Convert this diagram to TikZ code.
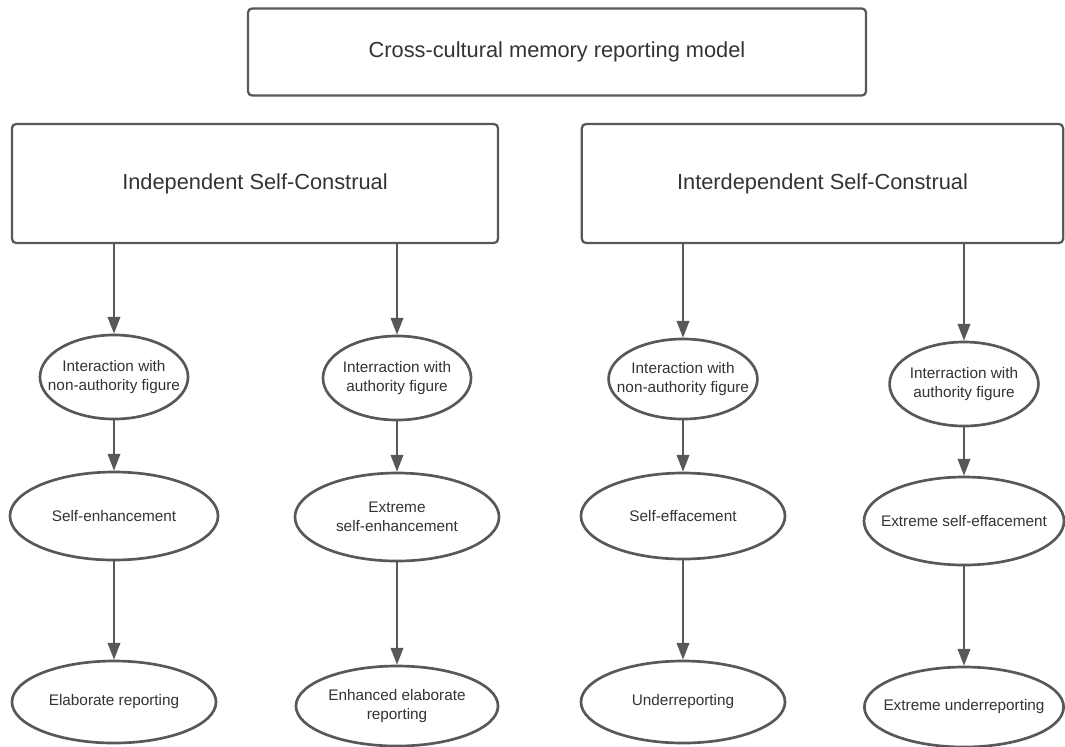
\documentclass[tikz,border=0pt]{standalone}
\usepackage{fontspec}
\setmainfont{Liberation Sans}
\usetikzlibrary{arrows.meta,shapes.geometric}
\definecolor{linegray}{RGB}{88,88,88}
\definecolor{textgray}{RGB}{51,51,51}

\begin{document}
\begin{tikzpicture}[x=0.025cm, y=-0.025cm,
  box/.style = {draw=linegray, line width=1.6pt, rounded corners=3pt, text=textgray, font=\fontsize{15.5}{18}\selectfont, inner sep=0pt},
  oval/.style = {ellipse, draw=linegray, line width=1.9pt, inner sep=0pt},
  ovaltext/.style = {text=textgray, font=\fontsize{10.9}{13.5}\selectfont, align=center, inner sep=0pt},
  arr/.style = {draw=linegray, line width=1.3pt, -{Triangle[length=12pt,width=9pt]}}]
\useasboundingbox (0,0) rectangle (1065,746);
\node (model) [box, minimum width=15.45cm, minimum height=2.175cm] at (557,52) {Cross-cultural memory reporting model};
\node (indep) [box, minimum width=12.15cm, minimum height=2.975cm] at (255,183.5) {Independent Self-Construal};
\node (inter) [box, minimum width=12.03cm, minimum height=2.975cm] at (822.5,183.5) {Interdependent Self-Construal};
\node (onea) [oval, minimum width=3.7cm, minimum height=2.1cm, label={[ovaltext]center:Interaction with\\non-authority figure}] at (114,377) {};
\node (oneb) [oval, minimum width=3.7cm, minimum height=2.1cm, label={[ovaltext]center:Interraction with\\authority figure}] at (397,378) {};
\node (onec) [oval, minimum width=3.72cm, minimum height=2.0cm, label={[ovaltext]center:Interaction with\\non-authority figure}] at (683,379) {};
\node (oned) [oval, minimum width=3.72cm, minimum height=2.1cm, label={[ovaltext]center:Interraction with\\authority figure}] at (964,384) {};
\node (twoa) [oval, minimum width=5.2cm, minimum height=2.2cm, label={[ovaltext]center:Self-enhancement}] at (114,516) {};
\node (twob) [oval, minimum width=5.1cm, minimum height=2.2cm, label={[ovaltext]center:Extreme\\self-enhancement}] at (397,517) {};
\node (twoc) [oval, minimum width=5.1cm, minimum height=2.15cm, label={[ovaltext]center:Self-effacement}] at (683,516) {};
\node (twod) [oval, minimum width=5.0cm, minimum height=2.2cm, label={[ovaltext]center:Extreme self-effacement}] at (964,521) {};
\node (threea) [oval, minimum width=5.1cm, minimum height=2.05cm, label={[ovaltext]center:Elaborate reporting}] at (114,702) {};
\node (threeb) [oval, minimum width=5.05cm, minimum height=2.0cm, label={[ovaltext]center:Enhanced elaborate\\reporting}] at (397,706) {};
\node (threec) [oval, minimum width=5.1cm, minimum height=2.05cm, label={[ovaltext]center:Underreporting}] at (683,702) {};
\node (threed) [oval, minimum width=4.98cm, minimum height=2.0cm, label={[ovaltext]center:Extreme underreporting}] at (964,707) {};
\draw[arr] (indep.south -| onea) -- (onea);
\draw[arr] (indep.south -| oneb) -- (oneb);
\draw[arr] (inter.south -| onec) -- (onec);
\draw[arr] (inter.south -| oned) -- (oned);
\foreach \c in {a,b,c,d} {
  \draw[arr] (one\c) -- (two\c);
  \draw[arr] (two\c) -- (three\c);
}
\end{tikzpicture}
\end{document}
